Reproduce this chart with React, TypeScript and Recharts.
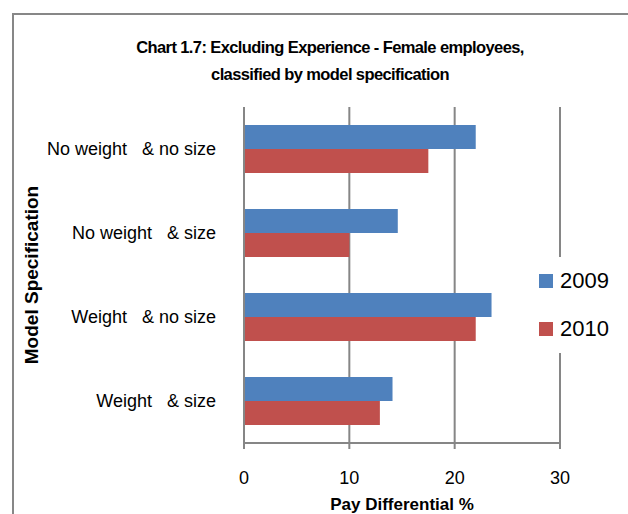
import { BarChart, Bar, XAxis, YAxis, CartesianGrid } from 'recharts';

const categories = ['No weight   & no size', 'No weight   & size', 'Weight   & no size', 'Weight   & size'];
const values2009 = [22.0, 14.6, 23.5, 14.1];
const values2010 = [17.5, 10.0, 22.0, 12.9];
const xTicks = [0, 10, 20, 30];
const seriesNames = ['2009', '2010'];
const seriesColors = ['#4F81BD', '#C0504D'];

const data = categories.map((name, i) => ({ name, s2009: values2009[i], s2010: values2010[i] }));

const FONT = "'Liberation Sans', Arial, sans-serif";
const GRID = '#868686';

const CategoryTick = ({ x, y, payload }: any) => (
  <text x={x} y={y} dy="0.35em" textAnchor="end" fontSize={18} fill="#000" fontFamily={FONT} style={{ whiteSpace: 'pre' }}>
    {payload.value}
  </text>
);

const YTitle = () => (
  <text x={38} y={275} transform="rotate(-90 38 275)" textAnchor="middle" fontSize={19} fontWeight="bold" fill="#000" fontFamily={FONT}>
    Model Specification
  </text>
);

export default function App() {
  return (
    <div style={{ position: 'absolute', left: 0, top: 0, width: 628, height: 514, overflow: 'hidden', background: '#fff' }}>
      <div style={{ position: 'absolute', left: 12, top: 13, width: 700, height: 600, border: '2px solid #878787', boxSizing: 'border-box' }} />
      <div style={{ position: 'absolute', left: 12, top: 34, width: 636, textAlign: 'center', fontFamily: FONT, fontWeight: 'bold', fontSize: 16.5, letterSpacing: -0.6, lineHeight: '27px', color: '#000' }}>
        Chart 1.7: Excluding Experience - Female employees,
        <br />
        classified by model specification
      </div>
      <div style={{ position: 'absolute', left: 0, top: 0 }}>
        <BarChart width={628} height={514} data={data} layout="vertical" margin={{ top: 107, right: 68, bottom: 0, left: 0 }} barCategoryGap={18} barGap={0}>
          <CartesianGrid horizontal={false} stroke={GRID} strokeWidth={2} />
          <XAxis
            type="number"
            domain={[0, 30]}
            ticks={xTicks}
            height={71}
            axisLine={{ stroke: GRID, strokeWidth: 2 }}
            tickLine={{ stroke: GRID, strokeWidth: 2 }}
            tickSize={6}
            tickMargin={22}
            tick={{ fontSize: 18, fill: '#000', fontFamily: FONT }}
            label={{ value: 'Pay Differential %', position: 'insideBottom', offset: 4, fontSize: 17, fontWeight: 'bold', fill: '#000', fontFamily: FONT }}
          />
          <YAxis
            type="category"
            dataKey="name"
            width={244}
            axisLine={{ stroke: GRID, strokeWidth: 2 }}
            tickLine={false}
            tickSize={0}
            tickMargin={28}
            tick={<CategoryTick />}
            label={<YTitle />}
          />
          <Bar dataKey="s2009" name={seriesNames[0]} fill={seriesColors[0]} isAnimationActive={false} />
          <Bar dataKey="s2010" name={seriesNames[1]} fill={seriesColors[1]} isAnimationActive={false} />
        </BarChart>
      </div>
      <div style={{ position: 'absolute', left: 530, top: 257, width: 92, height: 96, background: '#fff', paddingLeft: 9, boxSizing: 'border-box', fontFamily: FONT }}>
        {seriesNames.map((n, i) => (
          <div key={n} style={{ display: 'flex', alignItems: 'center', height: 48 }}>
            <span style={{ width: 14, height: 14, background: seriesColors[i], marginRight: 7, display: 'inline-block' }} />
            <span style={{ fontSize: 22, color: '#000' }}>{n}</span>
          </div>
        ))}
      </div>
    </div>
  );
}
